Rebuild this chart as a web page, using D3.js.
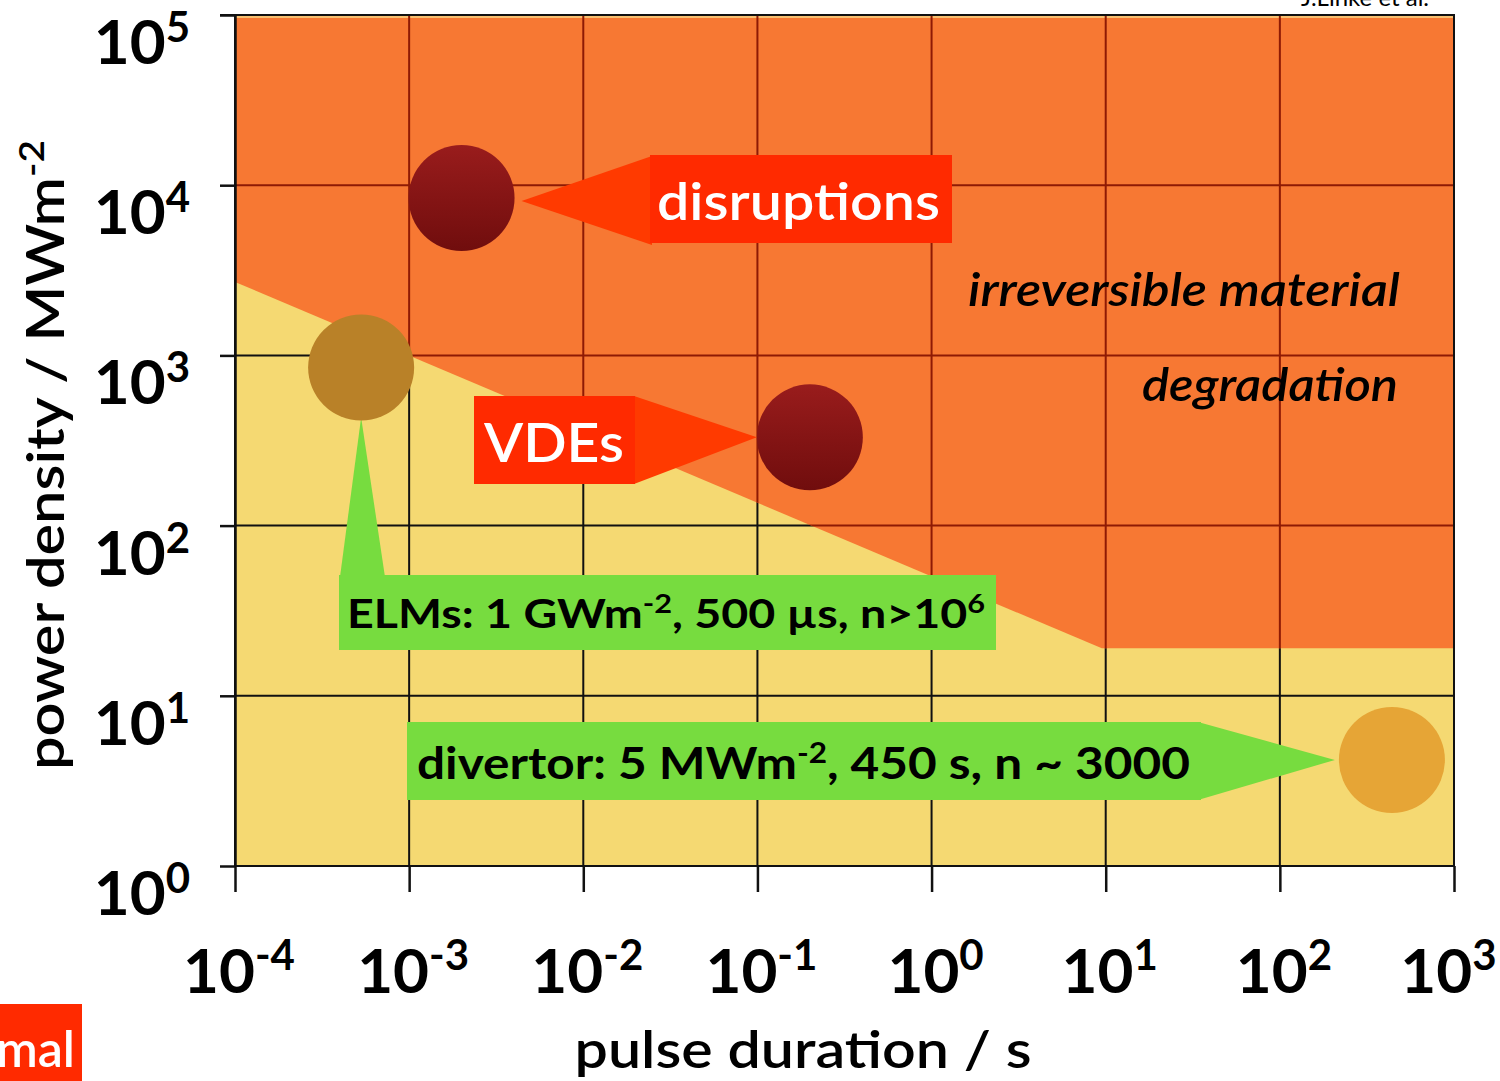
<!DOCTYPE html>
<html><head><meta charset="utf-8">
<script src="https://d3js.org/d3.v7.min.js"></script>
<style>
html,body{margin:0;padding:0;background:#fff;}
svg{display:block;}
text{font-family:"Lato","Open Sans",sans-serif;}
</style></head>
<body><svg id="c" width="1500" height="1081"></svg>
<script>
// ---- data ----
const xTickExps = [-4, -3, -2, -1, 0, 1, 2, 3];
const yTickExps = [0, 1, 2, 3, 4, 5];
const xTickLabels = ["-4", "-3", "-2", "-1", "0", "1", "2", "3"];
const yTickLabels = ["0", "1", "2", "3", "4", "5"];
// boundary between safe (yellow) and degradation (orange) regions [pulse s, power MW/m2]
const boundaryX = [1e-4, 9.5, 1000];
const boundaryY = [2700, 19, 19];
// events
const eventNames = ["disruptions", "ELMs", "VDEs", "divertor"];
const eventX = [2.0e-3, 5.3e-4, 0.2, 440];
const eventY = [8400, 850, 330, 4.2];
const eventColors = ["url(#gDark)", "#b98128", "url(#gDark)", "#e6a536"];

const svg = d3.select("#c");
const x = d3.scaleLog().domain([1e-4, 1e3]).range([235, 1454]);
const y = d3.scaleLog().domain([1, 1e5]).range([866, 15]);
const X0 = x.range()[0], X1 = x.range()[1], Y0 = y.range()[1], Y1 = y.range()[0];

const defs = svg.append("defs");
const rg = defs.append("linearGradient").attr("id", "gDark").attr("x1", 0).attr("y1", 0).attr("x2", 0).attr("y2", 1);
rg.append("stop").attr("offset", "0%").attr("stop-color", "#991c1c");
rg.append("stop").attr("offset", "100%").attr("stop-color", "#700d0d");

// orange polygon
const orangePts = [[1e-4, 1e5]].concat(boundaryX.map((d, i) => [d, boundaryY[i]])).concat([[1e3, 1e5]]);
const polyStr = orangePts.map(p => x(p[0]) + "," + y(p[1])).join(" ");
defs.append("clipPath").attr("id", "clipOrange").append("polygon").attr("points", polyStr);

// background yellow
svg.append("rect").attr("x", X0).attr("y", Y0).attr("width", X1 - X0).attr("height", Y1 - Y0).attr("fill", "#f5d972");

function drawGrid(g, color) {
  g.selectAll(".gv").data(xTickExps).join("line")
    .attr("x1", d => x(Math.pow(10, d))).attr("x2", d => x(Math.pow(10, d)))
    .attr("y1", Y0).attr("y2", Y1).attr("stroke", color).attr("stroke-width", 2);
  g.selectAll(".gh").data(yTickExps).join("line")
    .attr("y1", d => y(Math.pow(10, d))).attr("y2", d => y(Math.pow(10, d)))
    .attr("x1", X0).attr("x2", X1).attr("stroke", color).attr("stroke-width", 2);
}
drawGrid(svg.append("g"), "#111");

// orange region
svg.append("polygon").attr("points", polyStr).attr("fill", "#f77833");
svg.append("line").attr("x1", X0).attr("x2", X1).attr("y1", Y0 + 2).attr("y2", Y0 + 2).attr("stroke", "#f9c070").attr("stroke-width", 2);
drawGrid(svg.append("g").attr("clip-path", "url(#clipOrange)"), "#8e1a05");

// frame
svg.append("path").attr("d", `M${X0 - 15},${Y0}H${X1}V${Y1}H${X0}`).attr("fill", "none").attr("stroke", "#111").attr("stroke-width", 2);

// axes ticks
const xAxis = d3.axisBottom(x).tickValues(xTickExps.map(e => Math.pow(10, e))).tickFormat("").tickSize(26).tickSizeOuter(0);
svg.append("g").attr("transform", `translate(0,${Y1})`).call(xAxis)
  .call(g => g.select(".domain").remove())
  .call(g => g.selectAll("line").attr("stroke", "#111").attr("stroke-width", 2.5));
const yAxis = d3.axisLeft(y).tickValues(yTickExps.map(e => Math.pow(10, e))).tickFormat("").tickSize(15).tickSizeOuter(0);
svg.append("g").attr("transform", `translate(${X0},0)`).call(yAxis)
  .call(g => g.select(".domain").attr("stroke", "#111").attr("stroke-width", 2.5))
  .call(g => g.selectAll("line").attr("stroke", "#111").attr("stroke-width", 2.5));

// tick labels
const xw = (d, i) => xTickLabels[i].startsWith("-") ? 108 : 95;
const xl = svg.append("g").selectAll("text").data(xTickExps).join("text")
  .attr("x", (d, i) => Math.min(x(Math.pow(10, d)) + 4, 1496 - xw(d, i) / 2)).attr("y", 993)
  .attr("text-anchor", "middle").attr("font-size", 62).attr("font-weight", "bold").attr("fill", "#000");
xl.append("tspan").text("10");
xl.append("tspan").attr("dy", -23).attr("font-size", 42).text((d, i) => xTickLabels[i]);

const yl = svg.append("g").selectAll("text").data(yTickExps).join("text")
  .attr("x", 190).attr("y", d => y(Math.pow(10, d)) + 49)
  .attr("text-anchor", "end").attr("font-size", 62).attr("font-weight", "bold").attr("fill", "#000");
yl.append("tspan").text("10");
yl.append("tspan").attr("dy", -22).attr("font-size", 42).text((d, i) => yTickLabels[i]);

// axis titles
svg.append("text").attr("x", 803).attr("y", 1068).attr("text-anchor", "middle")
  .attr("font-size", 52).attr("font-weight", "600").attr("fill", "#000")
  .attr("textLength", 457).attr("lengthAdjust", "spacingAndGlyphs").text("pulse duration / s");
const yt = svg.append("text").attr("transform", "translate(64,455) rotate(-90)").attr("text-anchor", "middle")
  .attr("font-size", 52).attr("font-weight", "600").attr("fill", "#000")
  .attr("textLength", 630).attr("lengthAdjust", "spacingAndGlyphs");
yt.append("tspan").text("power density / MWm");
yt.append("tspan").attr("dy", -20).attr("font-size", 34).text("-2");

// region label
svg.append("text").attr("x", 1400).attr("y", 306).attr("text-anchor", "end").attr("font-size", 46)
  .attr("font-style", "italic").attr("font-weight", "600").attr("fill", "#000")
  .attr("textLength", 432).attr("lengthAdjust", "spacingAndGlyphs").text("irreversible material");
svg.append("text").attr("x", 1398).attr("y", 401).attr("text-anchor", "end").attr("font-size", 46)
  .attr("font-style", "italic").attr("font-weight", "600").attr("fill", "#000")
  .attr("textLength", 256).attr("lengthAdjust", "spacingAndGlyphs").text("degradation");

// callouts
const cx = i => x(eventX[i]), cy = i => y(eventY[i]);
const R = 53;
// disruptions
svg.append("polygon").attr("points", `${cx(0) + 60},${cy(0) + 3} 652,156 652,245`).attr("fill", "#ff3a00");
svg.append("rect").attr("x", 650).attr("y", 155).attr("width", 302).attr("height", 88).attr("fill", "#ff2a00");
svg.append("text").attr("x", 657).attr("y", 220).attr("font-size", 52)
  .attr("font-weight", "600").attr("fill", "#fff")
  .attr("textLength", 283).attr("lengthAdjust", "spacingAndGlyphs").text("disruptions");
// VDEs
svg.append("polygon").attr("points", `634,396 634,484 ${cx(2) - 53},${cy(2)}`).attr("fill", "#ff3a00");
svg.append("rect").attr("x", 474).attr("y", 396).attr("width", 161).attr("height", 88).attr("fill", "#ff2a00");
svg.append("text").attr("x", 484).attr("y", 462).attr("font-size", 54)
  .attr("font-weight", "600").attr("fill", "#fff")
  .attr("textLength", 140).attr("lengthAdjust", "spacingAndGlyphs").text("VDEs");
// ELMs
svg.append("polygon").attr("points", `340,577 385,577 ${cx(1)},${cy(1) + 50}`).attr("fill", "#77dc3f");
svg.append("rect").attr("x", 339).attr("y", 575).attr("width", 657).attr("height", 75).attr("fill", "#77dc3f");
const et = svg.append("text").attr("x", 347).attr("y", 628).attr("font-size", 41)
  .attr("font-weight", "bold").attr("fill", "#000").attr("textLength", 638).attr("lengthAdjust", "spacingAndGlyphs");
et.append("tspan").text("ELMs: 1 GWm");
et.append("tspan").attr("dy", -15).attr("font-size", 27).text("-2");
et.append("tspan").attr("dy", 15).text(", 500 µs, n>10");
et.append("tspan").attr("dy", -15).attr("font-size", 27).text("6");
// divertor
svg.append("polygon").attr("points", `1198,722 1198,800 ${cx(3) - 57},${cy(3)}`).attr("fill", "#77dc3f");
svg.append("rect").attr("x", 407).attr("y", 722).attr("width", 794).attr("height", 78).attr("fill", "#77dc3f");
const dt = svg.append("text").attr("x", 417).attr("y", 779).attr("font-size", 44)
  .attr("font-weight", "bold").attr("fill", "#000").attr("textLength", 773).attr("lengthAdjust", "spacingAndGlyphs");
dt.append("tspan").text("divertor: 5 MWm");
dt.append("tspan").attr("dy", -16).attr("font-size", 28).text("-2");
dt.append("tspan").attr("dy", 16).text(", 450 s, n ~ 3000");

// circles
svg.append("g").selectAll("circle").data(eventNames).join("circle")
  .attr("cx", (d, i) => cx(i)).attr("cy", (d, i) => cy(i)).attr("r", R)
  .attr("fill", (d, i) => eventColors[i]);

// credit (cut at top, as in the reference)
svg.append("text").attr("x", 1365).attr("y", 6).attr("text-anchor", "middle").attr("font-size", 24)
  .attr("fill", "#000").text("J.Linke et al.");

// bottom-left fragment
svg.append("rect").attr("x", 0).attr("y", 1004).attr("width", 82).attr("height", 77).attr("fill", "#ff2a00");
svg.append("text").attr("x", 75).attr("y", 1067).attr("text-anchor", "end").attr("font-size", 50)
  .attr("font-weight", "600").attr("fill", "#fff").text("mal");
</script></body></html>
